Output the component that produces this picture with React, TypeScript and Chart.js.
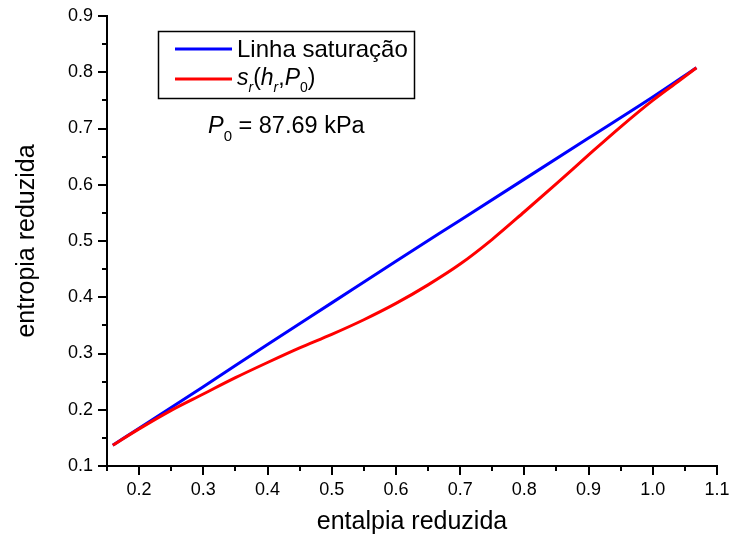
import { useEffect, useRef } from 'react';
import { Chart, registerables } from 'chart.js';

Chart.register(...registerables);

const FONT = '"Liberation Sans", Arial, Helvetica, sans-serif';

// Saturation line (reduced enthalpy vs reduced entropy)
const satEnthalpy = [0.159, 0.2, 0.3, 0.4, 0.5, 0.6, 0.7, 0.8, 0.9, 1.0, 1.068];
const satEntropy = [0.137, 0.167, 0.241, 0.316, 0.39, 0.464, 0.537, 0.61, 0.683, 0.756, 0.808];

// s_r(h_r, P0) isobar
const isoEnthalpy = [0.159, 0.2, 0.25, 0.3, 0.35, 0.4, 0.45, 0.5, 0.55, 0.6, 0.65, 0.7, 0.75, 0.8, 0.85, 0.9, 0.95, 1.0, 1.04, 1.068];
const isoEntropy = [0.137, 0.166, 0.199, 0.228, 0.257, 0.284, 0.31, 0.334, 0.36, 0.389, 0.422, 0.459, 0.503, 0.552, 0.602, 0.653, 0.703, 0.75, 0.784, 0.808];

const xTickValues = [0.2, 0.3, 0.4, 0.5, 0.6, 0.7, 0.8, 0.9, 1.0, 1.1];
const xMinorTicks = [0.15, 0.25, 0.35, 0.45, 0.55, 0.65, 0.75, 0.85, 0.95, 1.05];
const yTickValues = [0.1, 0.2, 0.3, 0.4, 0.5, 0.6, 0.7, 0.8, 0.9];
const yMinorTicks = [0.15, 0.25, 0.35, 0.45, 0.55, 0.65, 0.75, 0.85];

const xTitle = 'entalpia reduzida';
const yTitle = 'entropia reduzida';
const seriesNames = ['Linha saturação', 's_r(h_r,P_0)'];
const pressureLabel = '87.69 kPa';

type Part = { t: string; italic?: boolean; sub?: boolean };

function drawRich(ctx: CanvasRenderingContext2D, x: number, y: number, parts: Part[], size: number) {
  for (const p of parts) {
    const fs = p.sub ? Math.round(size * 0.62) : size;
    ctx.font = `${p.italic ? 'italic ' : ''}${fs}px ${FONT}`;
    ctx.fillText(p.t, x, y + (p.sub ? size * 0.32 : 0));
    x += ctx.measureText(p.t).width;
  }
}

const tickMarksPlugin = {
  id: 'tickMarks',
  afterDraw(chart: any) {
    const { ctx, chartArea, scales } = chart;
    const xs = scales.x;
    const ys = scales.y;
    ctx.save();
    ctx.strokeStyle = '#000';
    ctx.lineWidth = 2;
    ctx.beginPath();
    const b = Math.round(chartArea.bottom);
    const l = Math.round(chartArea.left);
    xTickValues.forEach((v) => {
      const px = Math.round(xs.getPixelForValue(v));
      ctx.moveTo(px, b);
      ctx.lineTo(px, b + 9);
    });
    xMinorTicks.forEach((v) => {
      const px = Math.round(xs.getPixelForValue(v));
      ctx.moveTo(px, b);
      ctx.lineTo(px, b + 5);
    });
    yTickValues.forEach((v) => {
      const py = Math.round(ys.getPixelForValue(v));
      ctx.moveTo(l, py);
      ctx.lineTo(l - 9, py);
    });
    yMinorTicks.forEach((v) => {
      const py = Math.round(ys.getPixelForValue(v));
      ctx.moveTo(l, py);
      ctx.lineTo(l - 5, py);
    });
    ctx.stroke();
    ctx.restore();
  },
};

const legendPlugin = {
  id: 'customLegend',
  afterDraw(chart: any) {
    const { ctx } = chart;
    ctx.save();
    ctx.strokeStyle = '#000';
    ctx.lineWidth = 1.5;
    ctx.strokeRect(158.5, 31.5, 256, 67);

    ctx.lineWidth = 3;
    ctx.strokeStyle = '#0000FF';
    ctx.beginPath();
    ctx.moveTo(175, 49);
    ctx.lineTo(232, 49);
    ctx.stroke();
    ctx.strokeStyle = '#FF0000';
    ctx.beginPath();
    ctx.moveTo(175, 79);
    ctx.lineTo(232, 79);
    ctx.stroke();

    ctx.fillStyle = '#000';
    ctx.textBaseline = 'alphabetic';
    ctx.textAlign = 'left';
    drawRich(ctx, 237, 57, [{ t: seriesNames[0] }], 24);
    drawRich(
      ctx,
      237,
      85,
      [
        { t: 's', italic: true },
        { t: 'r', italic: true, sub: true },
        { t: '(' },
        { t: 'h', italic: true },
        { t: 'r', italic: true, sub: true },
        { t: ',' },
        { t: 'P', italic: true },
        { t: '0', sub: true },
        { t: ')' },
      ],
      23
    );
    drawRich(
      ctx,
      208,
      133,
      [
        { t: 'P', italic: true },
        { t: '0', sub: true },
        { t: ' = ' + pressureLabel },
      ],
      23.5
    );
    ctx.restore();
  },
};

export default function App() {
  const ref = useRef<HTMLCanvasElement | null>(null);

  useEffect(() => {
    if (!ref.current) return;
    const chart = new Chart(ref.current, {
      type: 'line',
      data: {
        datasets: [
          {
            label: seriesNames[0],
            data: satEnthalpy.map((h, i) => ({ x: h, y: satEntropy[i] })),
            borderColor: '#0000FF',
            borderWidth: 3,
            pointRadius: 0,
            fill: false,
            tension: 0.4,
            cubicInterpolationMode: 'monotone',
            order: 2,
          },
          {
            label: seriesNames[1],
            data: isoEnthalpy.map((h, i) => ({ x: h, y: isoEntropy[i] })),
            borderColor: '#FF0000',
            borderWidth: 3,
            pointRadius: 0,
            fill: false,
            tension: 0.4,
            cubicInterpolationMode: 'monotone',
            order: 1,
          },
        ],
      },
      options: {
        animation: false,
        responsive: true,
        maintainAspectRatio: false,
        layout: { padding: { top: 16, right: 13, left: 0, bottom: 0 } },
        plugins: {
          legend: { display: false },
          tooltip: { enabled: false },
        },
        scales: {
          x: {
            type: 'linear',
            min: 0.15,
            max: 1.1,
            afterBuildTicks: (scale: any) => {
              scale.ticks = xTickValues.map((v) => ({ value: v }));
            },
            afterFit: (scale: any) => {
              scale.height = 79;
              scale.paddingLeft = 0;
              scale.paddingRight = 0;
            },
            grid: { display: false, drawTicks: false },
            border: { display: true, color: '#000', width: 2 },
            ticks: {
              padding: 13,
              color: '#000',
              font: { family: FONT, size: 18 },
              maxRotation: 0,
              autoSkip: false,
              callback: (v: any) => Number(v).toFixed(1),
            },
            title: {
              display: true,
              text: xTitle,
              color: '#000',
              font: { family: FONT, size: 25 },
              padding: { top: 0, bottom: 8 },
            },
          },
          y: {
            type: 'linear',
            min: 0.1,
            max: 0.9,
            afterBuildTicks: (scale: any) => {
              scale.ticks = yTickValues.map((v) => ({ value: v }));
            },
            afterFit: (scale: any) => {
              scale.width = 107;
              scale.paddingTop = 0;
              scale.paddingBottom = 0;
            },
            grid: { display: false, drawTicks: false },
            border: { display: true, color: '#000', width: 2 },
            ticks: {
              padding: 14,
              color: '#000',
              font: { family: FONT, size: 18 },
              autoSkip: false,
              callback: (v: any) => Number(v).toFixed(1),
            },
            title: {
              display: true,
              text: yTitle,
              color: '#000',
              font: { family: FONT, size: 25 },
              padding: { top: 12, bottom: 0 },
            },
          },
        },
      },
      plugins: [tickMarksPlugin, legendPlugin],
    } as any);
    return () => chart.destroy();
  }, []);

  return (
    <div style={{ position: 'fixed', left: 0, top: 0, width: 730, height: 545, background: '#fff' }}>
      <canvas ref={ref} />
    </div>
  );
}
